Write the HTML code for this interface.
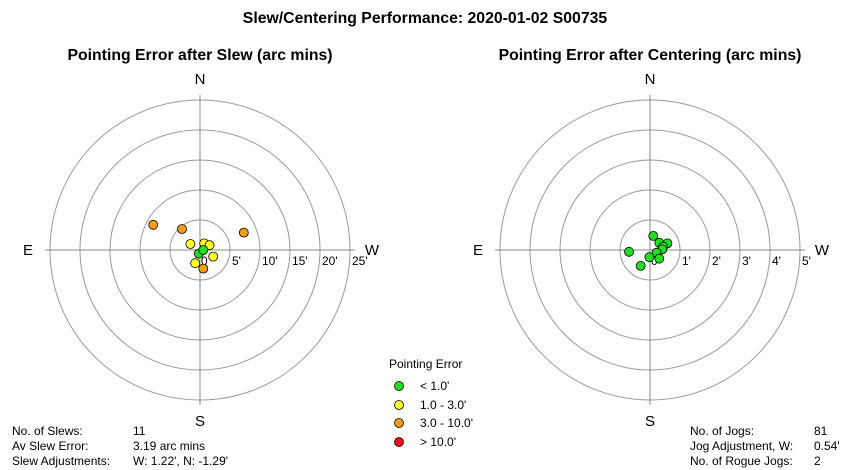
<!DOCTYPE html>
<html><head><meta charset="utf-8"><style>
body{margin:0;background:#fff;}
svg{display:block;font-family:"Liberation Sans",Arial,sans-serif;}
</style></head><body>
<svg id="chart" width="850" height="470" viewBox="0 0 850 470">
<rect width="850" height="470" fill="#fff"/>
<text x="425" y="23" text-anchor="middle" font-size="15.8" font-weight="bold">Slew/Centering Performance: 2020-01-02 S00735</text>
<text x="200" y="60" text-anchor="middle" font-size="15.8" font-weight="bold">Pointing Error after Slew (arc mins)</text>
<text x="650" y="60" text-anchor="middle" font-size="15.8" font-weight="bold">Pointing Error after Centering (arc mins)</text>
<g id="left"></g>
<g id="right"></g>
<g font-size="12">
<text x="389" y="368">Pointing Error</text>
<circle cx="399" cy="386" r="4.5" fill="#22dd22" stroke="#000" stroke-width="0.8"/>
<text x="420" y="390">&lt; 1.0'</text>
<circle cx="399" cy="405" r="4.5" fill="#ffff22" stroke="#000" stroke-width="0.8"/>
<text x="420" y="409">1.0 - 3.0'</text>
<circle cx="399" cy="423" r="4.5" fill="#f0a010" stroke="#000" stroke-width="0.8"/>
<text x="420" y="427">3.0 - 10.0'</text>
<circle cx="399" cy="442" r="4.5" fill="#ee1111" stroke="#000" stroke-width="0.8"/>
<text x="420" y="446">&gt; 10.0'</text>
</g>
<g font-size="12">
<text x="12" y="435">No. of Slews:</text>
<text x="133" y="435">11</text>
<text x="12" y="450">Av Slew Error:</text>
<text x="133" y="450">3.19 arc mins</text>
<text x="12" y="465">Slew Adjustments:</text>
<text x="133" y="465">W: 1.22', N: -1.29'</text>
</g>
<g font-size="12">
<text x="690" y="435">No. of Jogs:</text>
<text x="814" y="435">81</text>
<text x="690" y="450">Jog Adjustment, W:</text>
<text x="814" y="450">0.54'</text>
<text x="690" y="465">No. of Rogue Jogs:</text>
<text x="814" y="465">2</text>
</g>
</svg>
<script>
const slewW = [-7.8, -3.0, 7.3, -1.6, 0.7, 1.6, -0.2, 0.55, 2.2, -0.8, 0.55];
const slewN = [4.2, 3.5, 2.9, 1.0, 1.1, 0.8, -0.6, 0, -1.1, -2.2, -3.1];
const slewTicks = ["5'", "10'", "15'", "20'", "25'"];
const centW = [0.11, 0.31, 0.58, 0.44, 0.41, -0.7, 0.22, -0.02, 0.31, -0.31];
const centN = [0.47, 0.24, 0.22, 0.11, 0.02, -0.06, -0.09, -0.24, -0.29, -0.53];
const centTicks = ["1'", "2'", "3'", "4'", "5'"];
const NS = "http://www.w3.org/2000/svg";
function colorFor(e){ return e<1?"#22dd22":e<3?"#ffff22":e<=10?"#f0a010":"#ee1111"; }
function mk(tag, attrs, parent){ const el=document.createElementNS(NS,tag); for(const k in attrs) el.setAttribute(k,attrs[k]); parent.appendChild(el); return el; }
function polar(gid, cx, cy, R, maxVal, ticks, ws, ns){
  const g=document.getElementById(gid);
  const sc = v => v*R/maxVal;
  for(let i=0;i<ticks.length;i++){
    const r=sc(maxVal*(i+1)/ticks.length);
    const c=mk("circle",{cx:cx,cy:cy,r:r,fill:"none",stroke:"#999","stroke-width":1},g);
    
    
  }
  const l1=mk("line",{x1:cx,y1:cy-R-5,x2:cx,y2:cy+R+5,stroke:"#888"},g);
  
  
  const l2=mk("line",{x1:cx-R-5,y1:cy,x2:cx+R+5,y2:cy,stroke:"#888"},g);
  
  
  const dirs=[["N",cx,cy-R-16,"middle"],["S",cx,cy+R+26,"middle"],["E",cx-R-22,cy+5,"middle"],["W",cx+R+22,cy+5,"middle"]];
  dirs.forEach(d=>{ const t=mk("text",{x:d[1],y:d[2],"text-anchor":d[3],"font-size":15},g); t.textContent=d[0];
    
     });
  const z=mk("text",{x:cx+1,y:cy+15,"font-size":12},g); z.textContent="0";
  
  
  ticks.forEach((tk,i)=>{ const r=sc(maxVal*(i+1)/ticks.length);
    const t=mk("text",{x:cx+r+2,y:cy+15,"font-size":12},g); t.textContent=tk;
    
     });
  ws.forEach((w,i)=>{ const n=ns[i]; const e=Math.sqrt(w*w+n*n);
    const c=mk("circle",{cx:cx+sc(w),cy:cy-sc(n),r:4.5,fill:colorFor(e),stroke:"#000","stroke-width":0.8},g);
    
     });
}
polar("left",200,250,150,25,slewTicks,slewW,slewN);
polar("right",650,250,150,5,centTicks,centW,centN);
</script>
</body></html>
